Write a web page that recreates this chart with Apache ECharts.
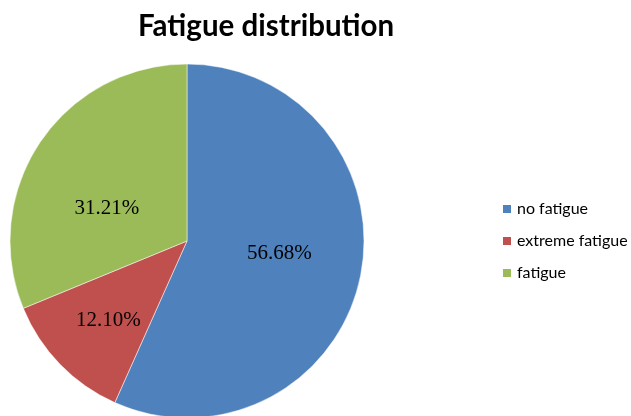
<!DOCTYPE html>
<html><head><meta charset="utf-8">
<script src="https://cdn.jsdelivr.net/npm/echarts@6/dist/echarts.min.js"></script>
<style>html,body{margin:0;padding:0;background:#fff}#c{width:631px;height:416px}</style>
</head><body><div id="c"></div>
<script>
const categories = ["no fatigue", "extreme fatigue", "fatigue"];
const values = [56.68, 12.10, 31.21];
const colors = ["#4F81BD", "#C0504D", "#9BBB59"];
const labelOffsets = [[3, -7], [-13, 16], [-4, 18]];
const chart = echarts.init(document.getElementById('c'), null, {renderer:'canvas'});
chart.setOption({
  animation: false,
  title: {text: "Fatigue distribution", left: 261, top: 6, textAlign: 'center',
    textStyle: {fontFamily: 'Lato', fontWeight: 'bold', fontSize: 29.5, color: '#000'}},
  legend: {orient: 'vertical', left: 501, top: 201, padding: 0, itemWidth: 10, itemHeight: 10, itemGap: 16,
    icon: 'rect', data: categories,
    textStyle: {fontFamily: 'Lato', fontSize: 16, color: '#000'}},
  series: [{
    type: 'pie', center: [187, 241], radius: 177, startAngle: 90, clockwise: true,
    silent: true,
    label: {position: 'inside', formatter: p => p.value.toFixed(2) + '%',
      fontFamily: 'Liberation Serif', fontSize: 21, color: '#000'},
    labelLine: {show: false},
    itemStyle: {borderColor: '#fff', borderWidth: 0.5},
    data: categories.map((n, i) => ({name: n, value: values[i], itemStyle: {color: colors[i]},
      label: {offset: labelOffsets[i]}}))
  }]
});
</script></body></html>
